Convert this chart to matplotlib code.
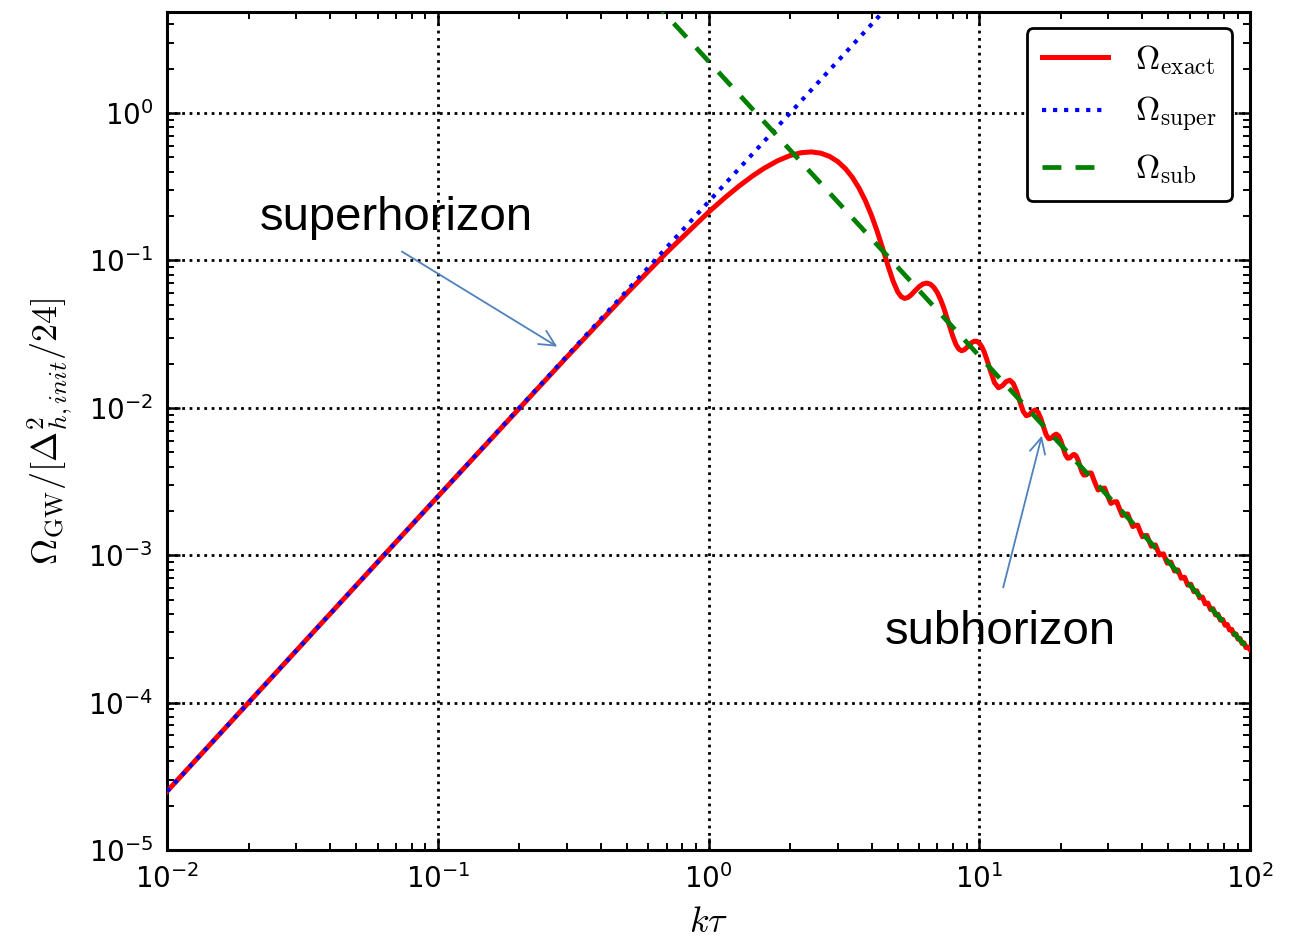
import matplotlib
matplotlib.use('Agg')
import matplotlib.pyplot as plt

plt.rcParams['mathtext.fontset'] = 'cm'
plt.rcParams['font.family'] = 'DejaVu Sans'
plt.rcParams['axes.unicode_minus'] = False

# exact spectrum, k*tau vs Omega_GW normalised
k_tau = [0.01, 0.1, 0.3, 0.5, 0.7, 1.0, 1.15, 1.3, 1.45, 1.6, 1.8, 2.0, 2.2,
         2.4, 2.6, 2.8, 3.0, 3.2, 3.4, 3.6, 3.8, 4.0, 4.2, 4.4, 4.6, 4.8,
         5.0, 5.15, 5.3, 5.45, 5.6, 5.8, 6.0, 6.2, 6.4, 6.6, 6.8, 7.0, 7.2,
         7.4, 7.6, 7.8, 8.0, 8.2, 8.4, 8.6, 8.8, 9.0, 9.2, 9.4, 9.6, 9.8,
         10.0, 10.2, 10.4, 10.6, 10.8,
         10.996, 11.388, 11.781, 12.174, 12.566, 12.959, 13.352, 13.745,
         14.137, 14.530, 14.923, 15.315, 15.708, 16.101, 16.493, 16.886,
         17.279, 17.672, 18.064, 18.457, 18.850, 19.242, 19.635, 20.028,
         20.420, 20.813, 21.206, 21.599, 21.991, 22.384, 22.777, 23.169,
         23.562, 23.955, 24.347, 24.740, 25.133,
         25.918, 26.704, 27.489, 28.274, 29.060, 29.845, 30.631, 31.416,
         32.201, 32.987, 33.772, 34.558, 35.343, 36.128, 36.914, 37.699,
         38.485, 39.270, 40.055, 40.841, 41.626, 42.412, 43.197, 43.982,
         44.768, 45.553, 46.339, 47.124, 47.909, 48.695, 49.480, 50.265,
         51.051, 51.836, 52.622, 53.407, 54.193, 54.978, 55.763, 56.549,
         57.334, 58.120, 58.905, 59.690, 60.476, 61.261, 62.047, 62.832,
         63.617, 65.188, 66.759, 68.330, 69.900, 71.471, 73.042, 74.613,
         76.184, 77.754, 79.325, 80.896, 82.467, 84.038, 85.608, 87.179,
         88.750, 90.321, 91.892, 93.462, 95.033, 96.604, 98.175, 100.0]
omega_exact = [2.5e-5, 0.0025, 0.02218, 0.06004, 0.1132, 0.2127, 0.2669,
               0.3211, 0.3731, 0.4210, 0.4751, 0.5152, 0.5388, 0.5452,
               0.5346, 0.5085, 0.4695, 0.4209, 0.3662, 0.3093, 0.2535,
               0.2021, 0.1572, 0.1204, 0.09232, 0.07287, 0.0612, 0.05677,
               0.0553, 0.0561, 0.05835, 0.06245, 0.06648, 0.06933, 0.07029,
               0.06904, 0.06568, 0.06057, 0.05428, 0.04749, 0.04071, 0.035,
               0.03029, 0.02697, 0.02507, 0.02442, 0.02476, 0.02568,
               0.02682, 0.0278, 0.02834, 0.02828, 0.02753, 0.02614,
               0.02426, 0.02204, 0.01986,
               0.01784, 0.01480, 0.013693, 0.01413, 0.01506, 0.015415,
               0.014653, 0.012949, 0.010976, 0.009472, 0.008841, 0.008991,
               0.009452, 0.009675, 0.009335, 0.00847, 0.00741, 0.00656,
               0.006174, 0.006234, 0.006493, 0.006638, 0.006461, 0.005964,
               0.005331, 0.004806, 0.004553, 0.004579, 0.00474, 0.004837,
               0.004735, 0.004424, 0.004016, 0.003669, 0.003497, 0.003508,
               0.003613,
               0.003618, 0.003133, 0.002769, 0.002846, 0.002854, 0.002512,
               0.002247, 0.002301, 0.002309, 0.002058, 0.00186, 0.001898,
               0.001906, 0.001717, 0.001564, 0.001593, 0.0016, 0.001454,
               0.001334, 0.001356, 0.001363, 0.001247, 0.001151, 0.001168,
               0.001174, 0.001082, 0.001004, 0.001017, 0.001022, 0.000947,
               0.000883, 0.000894, 0.000898, 0.000836, 0.000782, 0.000791,
               0.000795, 0.000743, 0.000698, 0.000706, 0.000709, 0.000665,
               0.000627, 0.000633, 0.000636, 0.000599, 0.000566, 0.000571,
               0.0005737, 0.0005135, 0.0005202, 0.000468, 0.0004739,
               0.0004283, 0.0004334, 0.0003935, 0.000398, 0.0003627,
               0.0003667, 0.0003354, 0.000339, 0.0003111, 0.0003143,
               0.0002893, 0.0002922, 0.0002698, 0.0002723, 0.0002521,
               0.0002544, 0.0002362, 0.0002382, 0.0002289]

# asymptotic limits (straight lines on log-log)
k_super = [0.01, 10.0]
omega_super = [2.5e-5, 25.0]
k_sub = [0.1, 100.0]
omega_sub = [225.0, 2.25e-4]

fig = plt.figure(figsize=(12.98, 9.41), dpi=100)
ax = fig.add_axes([0.1287, 0.0967, 0.8343, 0.8905])

ax.plot(k_tau, omega_exact, color='#ff0000', lw=3.6, label=r'$\Omega_{\rm exact}$', zorder=3)
ax.plot(k_super, omega_super, color='#0000ff', lw=3.0, ls=':', label=r'$\Omega_{\rm super}$', zorder=4)
ax.plot(k_sub, omega_sub, color='#008000', lw=3.4, ls='--', dashes=(4, 3), label=r'$\Omega_{\rm sub}$', zorder=4)

ax.set_xscale('log')
ax.set_yscale('log')
ax.set_xlim(1e-2, 1e2)
ax.set_ylim(1e-5, 4.85)

ax.grid(True, which='major', color='black', ls=':', lw=2.0)
ax.tick_params(which='both', direction='in', top=True, right=True, labelsize=20)
ax.tick_params(which='major', length=9, width=1.8, pad=10)
ax.tick_params(which='minor', length=5, width=1.4)
for sp in ax.spines.values():
    sp.set_linewidth(2.2)

ax.set_xlabel(r'$k\tau$', fontsize=26, labelpad=8)
ax.set_ylabel(r'$\Omega_{\rm GW}/[\Delta^2_{h,init}/24]$', fontsize=26, labelpad=10)

leg = ax.legend(loc='upper right', bbox_to_anchor=(0.983, 0.981), borderaxespad=0,
                fontsize=24, handlelength=2.0, labelspacing=0.55, borderpad=0.45,
                fancybox=True, framealpha=1)
leg.get_frame().set_edgecolor('black')
leg.get_frame().set_linewidth(2.0)

# labels pointing at the two regimes
arrow_col = '#4f81bd'
ax.annotate('', xy=(0.2817, 0.02546), xytext=(0.0722, 0.1177),
            arrowprops=dict(arrowstyle='->', color=arrow_col, lw=1.3, mutation_scale=28))
ax.text(0.02197, 0.194, 'superhorizon', fontsize=34, family='Liberation Sans', va='center', ha='left')
ax.annotate('', xy=(17.13, 0.00675), xytext=(12.19, 5.8e-4),
            arrowprops=dict(arrowstyle='->', color=arrow_col, lw=1.3, mutation_scale=28))
ax.text(4.47, 3.01e-4, 'subhorizon', fontsize=34, family='Liberation Sans', va='center', ha='left')

fig.savefig('out.png', dpi=100)
